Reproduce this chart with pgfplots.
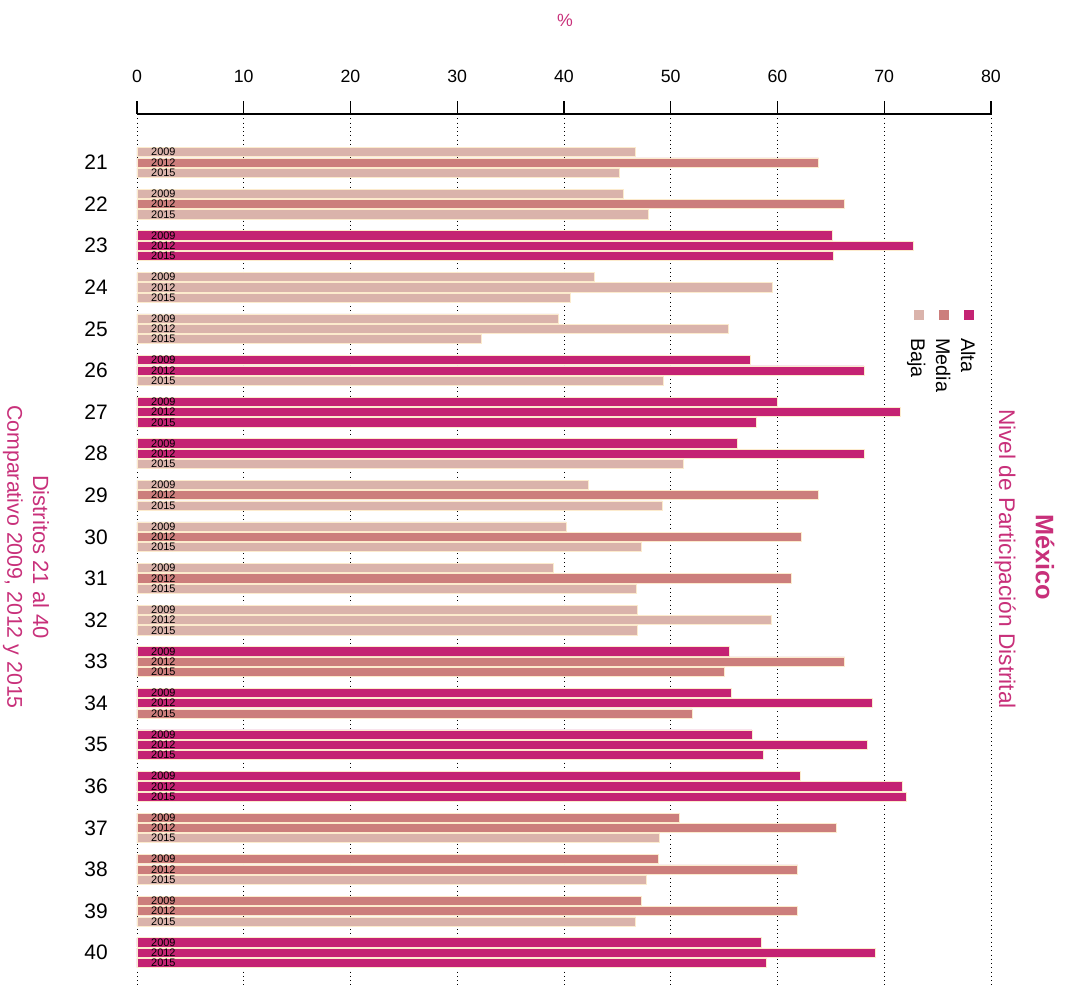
\documentclass[border=0pt]{standalone}
\usepackage{fontspec}
\setmainfont{Liberation Sans}
\usepackage{pgfplots}
\pgfplotsset{compat=1.18}
\usepackage{pgfplotstable}
\definecolor{alta}{HTML}{C42373}
\definecolor{media}{HTML}{CC7E7C}
\definecolor{baja}{HTML}{DAB3AB}
\definecolor{tit}{HTML}{C8307A}
\definecolor{edge}{HTML}{FCEBCD}

% d = distrito, k = year (-1: 2009, 0: 2012, 1: 2015), v = %
\pgfplotstableread{
d k v
23 -1 65.1
23 0 72.7
23 1 65.2
26 -1 57.45
26 0 68.1
27 -1 60.0
27 0 71.5
27 1 58.0
28 -1 56.2
28 0 68.1
33 -1 55.5
34 -1 55.7
34 0 68.9
35 -1 57.6
35 0 68.4
35 1 58.7
36 -1 62.1
36 0 71.7
36 1 72.1
40 -1 58.5
40 0 69.2
40 1 59.0
}\altatab

\pgfplotstableread{
d k v
21 0 63.85
22 0 66.3
29 0 63.8
30 0 62.2
31 0 61.3
33 0 66.3
33 1 55.0
34 1 52.0
37 -1 50.8
37 0 65.5
38 -1 48.85
38 0 61.9
39 -1 47.2
39 0 61.9
}\mediatab

\pgfplotstableread{
d k v
21 -1 46.66
21 1 45.2
22 -1 45.6
22 1 47.9
24 -1 42.8
24 0 59.55
24 1 40.6
25 -1 39.5
25 0 55.35
25 1 32.3
26 1 49.3
28 1 51.2
29 -1 42.3
29 1 49.2
30 -1 40.2
30 1 47.2
31 -1 39.0
31 1 46.8
32 -1 46.85
32 0 59.4
32 1 46.9
37 1 48.9
38 1 47.7
39 1 46.7
}\bajatab

\begin{document}
\begin{tikzpicture}
\useasboundingbox (-102.75pt,-0.75pt) rectangle (698.25pt,741pt);
\begin{axis}[
  at={(0pt,0pt)}, anchor=south west,
  scale only axis, width=640.5pt, height=655.5pt,
  xmin=0, xmax=80, ymin=19.834, ymax=40.849, y dir=reverse,
  axis x line=top, axis y line=left,
  x axis line style={-, line width=1.1pt, black},
  y axis line style={draw=none},
  xtick={0,10,...,80}, ytick={21,...,40},
  tick align=outside,
  major tick length=9.75pt,
  xtick style={black, line width=0.8pt},
  ytick style={draw=none},
  xmajorgrids,
  major grid style={black, line width=0.7pt, dash pattern=on 0.7pt off 2.5pt},
  /pgf/number format/assume math mode=true,
  xticklabel style={font=\fontsize{13.3}{15}\selectfont, anchor=center, inner sep=0pt, yshift=18.4pt},
  yticklabel style={font=\fontsize{15.7}{18}\selectfont, anchor=east, inner sep=0pt, xshift=-12pt},
  bar shift=0pt,
  clip=false,
]
\addplot[xbar, bar width=0.22, bar shift=0pt, fill=alta, draw=edge, line width=0.5pt]
  table[x=v, y expr=\thisrow{d}+0.2477*\thisrow{k}] {\altatab};
\addplot[xbar, bar width=0.22, bar shift=0pt, fill=media, draw=edge, line width=0.5pt]
  table[x=v, y expr=\thisrow{d}+0.2477*\thisrow{k}] {\mediatab};
\addplot[xbar, bar width=0.22, bar shift=0pt, fill=baja, draw=edge, line width=0.5pt]
  table[x=v, y expr=\thisrow{d}+0.2477*\thisrow{k}] {\bajatab};
\pgfplotsinvokeforeach{21,...,40}{
  \node[anchor=west, inner sep=0pt, font=\fontsize{8.2}{9}\selectfont] at (axis cs:1.31,#1-0.2477) {2009};
  \node[anchor=west, inner sep=0pt, font=\fontsize{8.2}{9}\selectfont] at (axis cs:1.31,#1) {2012};
  \node[anchor=west, inner sep=0pt, font=\fontsize{8.2}{9}\selectfont] at (axis cs:1.31,#1+0.2477) {2015};
}
\end{axis}
% titles
\node[text=tit, font=\fontsize{13.3}{15}\selectfont] at (321pt,726pt) {\%};
\node[text=tit, font=\fontsize{19}{22}\selectfont\bfseries, rotate=-90] at (681pt,323.25pt) {México};
\node[text=tit, font=\fontsize{17}{20}\selectfont, rotate=-90] at (651pt,321.75pt) {Nivel de Participación Distrital};
\node[text=tit, font=\fontsize{16.5}{19}\selectfont, rotate=-90] at (-72pt,323.25pt) {Distritos 21 al 40};
\node[text=tit, font=\fontsize{16}{19}\selectfont, rotate=-90] at (-93pt,323.25pt) {Comparativo 2009, 2012 y 2015};
% legend
\fill[baja] (586.5pt,504.75pt) ++(-3.75pt,-3.75pt) rectangle ++(7.5pt,7.5pt);
\fill[media] (605.25pt,504.75pt) ++(-3.75pt,-3.75pt) rectangle ++(7.5pt,7.5pt);
\fill[alta] (624pt,504.75pt) ++(-3.75pt,-3.75pt) rectangle ++(7.5pt,7.5pt);
\node[anchor=base west, inner sep=0pt, rotate=-90, font=\fontsize{14.8}{17}\selectfont] at (618pt,487.5pt) {Alta};
\node[anchor=base west, inner sep=0pt, rotate=-90, font=\fontsize{14.8}{17}\selectfont] at (599.25pt,487.5pt) {Media};
\node[anchor=base west, inner sep=0pt, rotate=-90, font=\fontsize{14.8}{17}\selectfont] at (580.5pt,487.5pt) {Baja};
\end{tikzpicture}
\end{document}
